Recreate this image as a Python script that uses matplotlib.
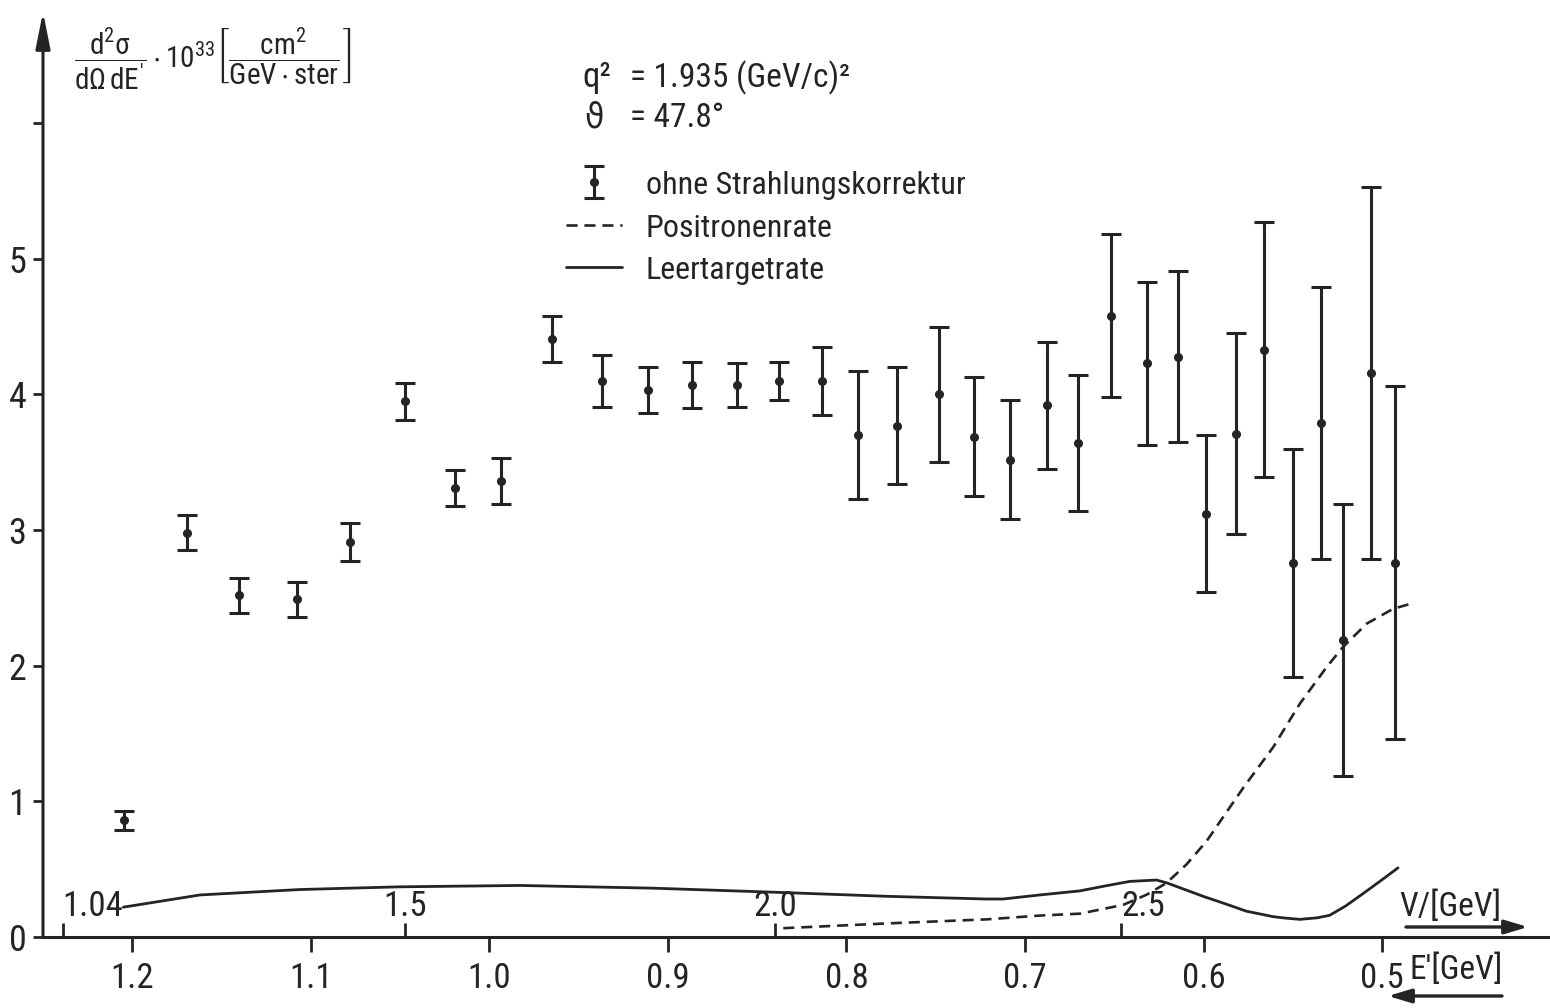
import matplotlib
matplotlib.use("Agg")
import matplotlib.pyplot as plt
from matplotlib import font_manager as fm

# ---------------- data ----------------
e_prime = [1.2045, 1.1692, 1.1402, 1.1079, 1.0779, 1.0471, 1.0195, 0.9935, 0.9651,
           0.9371, 0.9114, 0.8864, 0.8612, 0.8378, 0.8136, 0.7938, 0.7716, 0.7481,
           0.7285, 0.7085, 0.6876, 0.6703, 0.6521, 0.6318, 0.6144, 0.5989, 0.5819,
           0.5662, 0.5502, 0.5343, 0.5218, 0.5065, 0.4927]
sigma = [0.86, 2.98, 2.52, 2.49, 2.91, 3.95, 3.31, 3.36, 4.41, 4.10, 4.03, 4.07,
         4.07, 4.10, 4.10, 3.70, 3.77, 4.00, 3.69, 3.52, 3.92, 3.64, 4.58, 4.23,
         4.28, 3.12, 3.71, 4.33, 2.76, 3.79, 2.19, 4.16, 2.76]
sigma_err = [0.07, 0.13, 0.13, 0.13, 0.14, 0.135, 0.135, 0.17, 0.17, 0.19, 0.17,
             0.17, 0.16, 0.14, 0.25, 0.47, 0.43, 0.50, 0.44, 0.44, 0.47, 0.50,
             0.60, 0.60, 0.63, 0.58, 0.74, 0.94, 0.84, 1.00, 1.00, 1.37, 1.30]

positron_e = [0.8354, 0.7775, 0.7215, 0.6917, 0.6693, 0.6450, 0.6319, 0.6208,
              0.6096, 0.5983, 0.5778, 0.5610, 0.5461, 0.5311, 0.5218, 0.5087,
              0.4938, 0.4845]
positron_rate = [0.065, 0.10, 0.13, 0.158, 0.172, 0.237, 0.312, 0.398, 0.535,
                 0.707, 1.10, 1.40, 1.72, 1.99, 2.14, 2.31, 2.42, 2.455]

empty_e = [1.2050, 1.1621, 1.1061, 1.0501, 0.9829, 0.9083, 0.8401, 0.7775, 0.7215,
           0.7124, 0.6917, 0.6693, 0.6553, 0.6413, 0.6264, 0.6208, 0.6105, 0.6003,
           0.5868, 0.5760, 0.5666, 0.5610, 0.5555, 0.5462, 0.5366, 0.5294, 0.5203,
           0.5107, 0.5013, 0.4911]
empty_rate = [0.22, 0.31, 0.35, 0.37, 0.38, 0.36, 0.33, 0.30, 0.28, 0.28, 0.31,
              0.34, 0.376, 0.41, 0.42, 0.40, 0.35, 0.30, 0.24, 0.19, 0.165, 0.15,
              0.141, 0.13, 0.141, 0.16, 0.23, 0.32, 0.41, 0.51]

eprime_ticks = [1.2, 1.1, 1.0, 0.9, 0.8, 0.7, 0.6, 0.5]
eprime_labels = ["1.2", "1.1", "1.0", "0.9", "0.8", "0.7", "0.6", "0.5"]
w_labels = ["1.04", "1.5", "2.0", "2.5"]
w_tick_eprime = [1.239, 1.047, 0.840, 0.646]
y_ticks = [0, 1, 2, 3, 4, 5, 6]
y_labels = ["0", "1", "2", "3", "4", "5", ""]

legend_labels = ["ohne Strahlungskorrektur", "Positronenrate", "Leertargetrate"]

# ---------------- fonts ----------------
names = {f.name for f in fm.fontManager.ttflist}
base = "DejaVu Sans"
for cand in ["Roboto Condensed", "Liberation Sans Narrow", "Open Sans Condensed",
             "Liberation Sans"]:
    if cand in names:
        base = cand
        break
plt.rcParams["font.family"] = [base, "DejaVu Sans"]
plt.rcParams["font.stretch"] = "condensed"
plt.rcParams["mathtext.fontset"] = "custom"
plt.rcParams["mathtext.rm"] = base
plt.rcParams["mathtext.it"] = base
plt.rcParams["mathtext.bf"] = base
plt.rcParams["mathtext.sf"] = base
plt.rcParams["mathtext.fallback"] = "stixsans"

INK = "#242424"
W, H = 1550, 1008


def P(x, y):
    return (x / W, 1 - y / H)


fig = plt.figure(figsize=(W / 100, H / 100), dpi=100)
fig.patch.set_facecolor("white")
ax = fig.add_axes([43 / W, 71 / H, (W - 43) / W, 925 / H])
ax.set_xlim(1.25, 0.406)
ax.set_ylim(0, 6.82)

for s in ["top", "right", "left"]:
    ax.spines[s].set_visible(False)
ax.spines["bottom"].set_linewidth(2.2)
ax.spines["bottom"].set_color(INK)

# y axis with arrow
ax.annotate("", xy=(0, 1.0), xytext=(0, 0), xycoords="axes fraction",
            textcoords="axes fraction",
            arrowprops=dict(arrowstyle="-|>,head_length=1.1,head_width=0.22",
                            lw=2.2, color=INK, mutation_scale=20,
                            shrinkA=0, shrinkB=0), annotation_clip=False)

ax.set_yticks(y_ticks)
ax.set_yticklabels(y_labels)
ax.tick_params(axis="y", direction="out", length=7, width=2, color=INK,
               labelsize=26, labelcolor=INK, pad=5)
ax.set_xticks(eprime_ticks)
ax.set_xticklabels(eprime_labels)
ax.tick_params(axis="x", direction="out", length=11, width=2, color=INK,
               labelsize=25, labelcolor=INK, pad=7)

# W (invariant mass) scale: ticks pointing up from the E' axis line
ax2 = ax.twiny()
ax2.set_xlim(ax.get_xlim())
ax2.spines["top"].set_position(("axes", 0.0))
for s in ax2.spines.values():
    s.set_visible(False)
ax2.set_xticks(w_tick_eprime)
ax2.set_xticklabels(w_labels)
ax2.tick_params(axis="x", which="both", top=True, labeltop=True, bottom=False,
                labelbottom=False, direction="out", length=10, width=2,
                color=INK, labelsize=25, labelcolor=INK, pad=0)
w_align = ["left", "center", "center", "left"]
for lbl, al in zip(ax2.get_xticklabels(), w_align):
    lbl.set_horizontalalignment(al)

# data
eb = ax.errorbar(e_prime, sigma, yerr=sigma_err, fmt="o", ms=5.5, color=INK,
                 ecolor=INK, elinewidth=2.2, capsize=7.5, capthick=2.2, zorder=3)
ln_pos, = ax.plot(positron_e, positron_rate, color=INK, lw=1.9,
                  dashes=(4.2, 2.6), solid_joinstyle="round")
ln_empty, = ax.plot(empty_e, empty_rate, color=INK, lw=2.0,
                    solid_joinstyle="round", solid_capstyle="round")

leg = ax2.legend([eb, ln_pos, ln_empty], legend_labels, loc="upper left",
                 bbox_to_anchor=P(566, 170), bbox_transform=fig.transFigure,
                 frameon=False, fontsize=23, handlelength=1.75,
                 handletextpad=0.75, labelspacing=0.38, borderpad=0,
                 borderaxespad=0, handleheight=0.9)
for t in leg.get_texts():
    t.set_color(INK)

# y-axis quantity label
fig.text(*P(74, 60),
         r"$\dfrac{\mathrm{d}^2\sigma}{\mathrm{d}\Omega\,\mathrm{d}E^{\prime}}"
         r"\cdot10^{33}\left[\dfrac{\mathrm{cm}^2}{\mathrm{GeV\cdot ster}}\right]$",
         fontsize=21, color=INK, ha="left", va="center")

# kinematics
fig.text(*P(582, 78), "q²", fontsize=25, color=INK, ha="left", va="center")
fig.text(*P(630, 78), "= 1.935 (GeV/c)²", fontsize=24, color=INK,
         ha="left", va="center")
fig.text(*P(584, 118), "ϑ", fontsize=25, color=INK, ha="left", va="center",
         family=["DejaVu Sans"])
fig.text(*P(630, 118), "= 47.8°", fontsize=24, color=INK, ha="left",
         va="center")

# axis names with direction arrows
arrow_kw = dict(arrowstyle="-|>,head_length=1.0,head_width=0.3", lw=2.4,
                color=INK, mutation_scale=14, shrinkA=0, shrinkB=0)
fig.text(*P(1450, 907), "V/[GeV]", fontsize=24, color=INK, ha="center",
         va="center")
ax.annotate("", xy=P(1528, 927), xytext=P(1406, 927), xycoords="figure fraction",
            textcoords="figure fraction", arrowprops=arrow_kw,
            annotation_clip=False)
fig.text(*P(1456, 970), "E'[GeV]", fontsize=24, color=INK, ha="center",
         va="center")
ax.annotate("", xy=P(1388, 996), xytext=P(1502, 996), xycoords="figure fraction",
            textcoords="figure fraction", arrowprops=arrow_kw,
            annotation_clip=False)

fig.savefig("out.png", dpi=100, facecolor="white")
